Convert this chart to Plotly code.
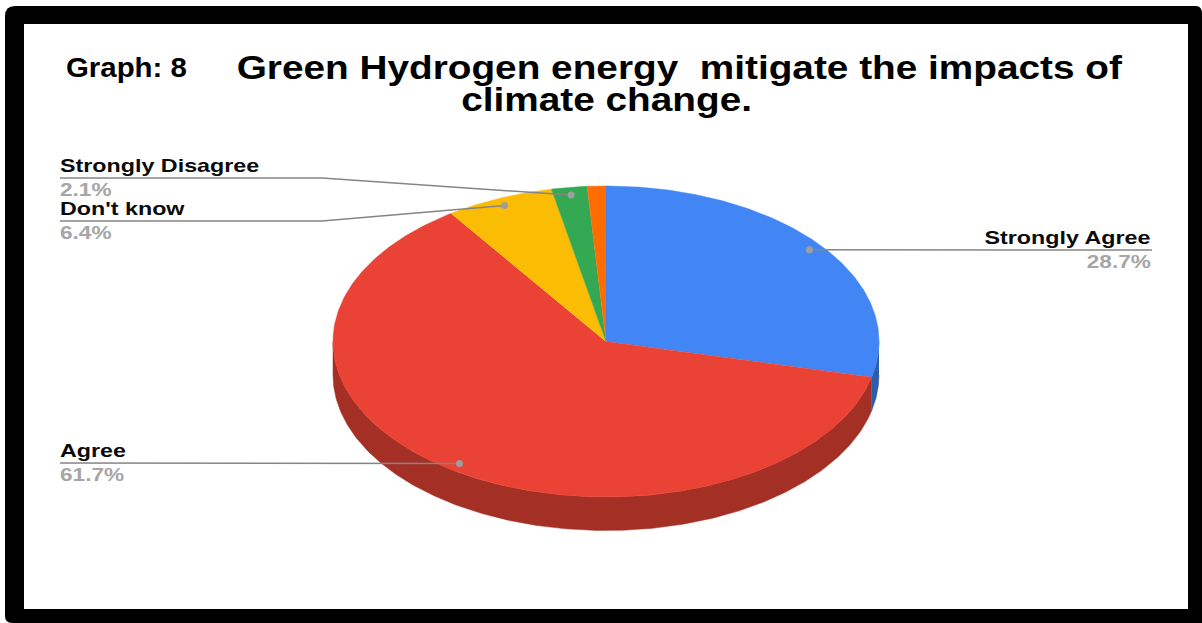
import json
import math
import plotly.graph_objects as go

# ---------- data ----------
categories = ["Strongly Agree", "Agree", "Don't know", "Strongly Disagree", "Other"]
values = [28.7, 61.7, 6.4, 2.1, 1.1]
value_labels = ["28.7%", "61.7%", "6.4%", "2.1%", None]
top_colors = ["#4285F4", "#EA4335", "#FBBC04", "#34A853", "#FF6D01"]
side_colors = ["#2E5DAB", "#A32F25", "#B08403", "#24763A", "#B34C01"]
title_lines = ["Green Hydrogen energy  mitigate the impacts of", "climate change."]
graph_tag = "Graph: 8"

# ---------- geometry of the tilted pie ----------
W, H = 1202, 623
CX, CY, RX, RY, DEPTH = 606, 341.5, 273, 155.5, 33.5
DOT_R = 0.95
total = sum(values)
FAMILY = "Liberation Sans"
LABEL_STRETCH = 1.225
PERCENT_STRETCH = 1.19
TITLE_STRETCH = 1.14
TAG_STRETCH = 1.05


def pt(theta, r=1.0, dy=0.0):
    return CX + r * RX * math.sin(theta), CY - r * RY * math.cos(theta) + dy


def arc(a, b, dy=0.0):
    n = max(2, int(abs(b - a) / 0.01))
    return [pt(a + (b - a) * i / n, dy=dy) for i in range(n + 1)]


fig = go.Figure()


def poly(points, color):
    xs, ys = zip(*points)
    fig.add_trace(go.Scatter(x=xs, y=ys, mode="lines", fill="toself", fillcolor=color,
                             line=dict(color=color, width=0.5), hoverinfo="skip",
                             showlegend=False))


edges = [0.0]
for v in values:
    edges.append(edges[-1] + v / total * 2 * math.pi)

# side wall (only the front half of the rim is visible)
for i in range(len(values)):
    a, b = max(edges[i], math.pi / 2), min(edges[i + 1], 3 * math.pi / 2)
    if b > a:
        poly(arc(a, b) + arc(b, a, dy=DEPTH), side_colors[i])

# top face
for i in range(len(values)):
    poly([(CX, CY)] + arc(edges[i], edges[i + 1]), top_colors[i])

# leader lines: (label edge x, elbow x, line y, text anchor)
LEADERS = {
    "Strongly Agree": (1152, 1152, 250, "right"),
    "Agree": (60, 60, 463, "left"),
    "Don't know": (60, 322, 221, "left"),
    "Strongly Disagree": (60, 322, 178, "left"),
}
annotations = []
stretch = {}


def label(x, y, text, anchor, yanchor, size, color, factor):
    annotations.append(dict(x=x, y=y, text=text, xanchor=anchor, yanchor=yanchor, showarrow=False,
                            font=dict(size=size, color=color, family=FAMILY, weight=700),
                            xref="x", yref="y", borderpad=0))
    stretch[text] = [factor, anchor]


for i, cat in enumerate(categories):
    if cat not in LEADERS:
        continue
    x0, xe, yl, anchor = LEADERS[cat]
    dx, dy = pt((edges[i] + edges[i + 1]) / 2, r=DOT_R)
    fig.add_trace(go.Scatter(x=[x0, xe, dx], y=[yl, yl, dy], mode="lines",
                             line=dict(color="#858585", width=1.5), hoverinfo="skip",
                             showlegend=False))
    fig.add_trace(go.Scatter(x=[dx], y=[dy], mode="markers",
                             marker=dict(color="#9E9E9E", size=7), hoverinfo="skip",
                             showlegend=False))
    label(x0, yl - 1, cat, anchor, "bottom", 19, "#0B0B0B", LABEL_STRETCH)
    label(x0, yl, value_labels[i], anchor, "top", 19, "#A6A6A6", PERCENT_STRETCH)

# title and tag
label(679.5, 67, title_lines[0], "center", "middle", 34, "#000000", TITLE_STRETCH)
label(606, 99, title_lines[1], "center", "middle", 34, "#000000", TITLE_STRETCH)
label(66, 67, graph_tag, "left", "middle", 28, "#000000", TAG_STRETCH)

frame_outer = "M 5 16 Q 5 6 15 6 L 1196 6 Q 1202 6 1202 14 L 1202 623 L 12 623 Q 5 623 5 616 Z"
shapes = [
    dict(type="path", path=frame_outer, fillcolor="#000000", line=dict(width=0), layer="below", xref="x", yref="y"),
    dict(type="rect", x0=24, x1=1188, y0=24, y1=609, fillcolor="#FFFFFF", line=dict(width=0), layer="below",
         xref="x", yref="y"),
]

fig.update_layout(
    width=W, height=H, autosize=False,
    margin=dict(l=0, r=0, t=0, b=0),
    paper_bgcolor="#FFFFFF", plot_bgcolor="rgba(0,0,0,0)",
    showlegend=False, shapes=shapes, annotations=annotations,
    xaxis=dict(range=[0, W], visible=False, fixedrange=True),
    yaxis=dict(range=[H, 0], visible=False, fixedrange=True),
)

# The reference's lettering is horizontally stretched; widen the SVG text the same way.
post = """
document.body.style.margin='0';document.body.style.overflow='hidden';
var S=%s;
document.querySelectorAll('.annotation-text').forEach(function(t){
  var s=S[t.textContent]; if(!s) return;
  var w=t.getComputedTextLength(), b0=t.getBBox();
  t.setAttribute('lengthAdjust','spacingAndGlyphs');
  t.setAttribute('textLength',w*s[0]);
  var b1=t.getBBox(), dx=0;
  if(s[1]==='left') dx=b0.x-b1.x-1;
  if(s[1]==='right') dx=(b0.x+b0.width)-(b1.x+b1.width);
  if(dx) t.setAttribute('x',parseFloat(t.getAttribute('x')||0)+dx);
});
""" % json.dumps(stretch)

fig.write_html("out.html", config=dict(displayModeBar=False), post_script=post)
